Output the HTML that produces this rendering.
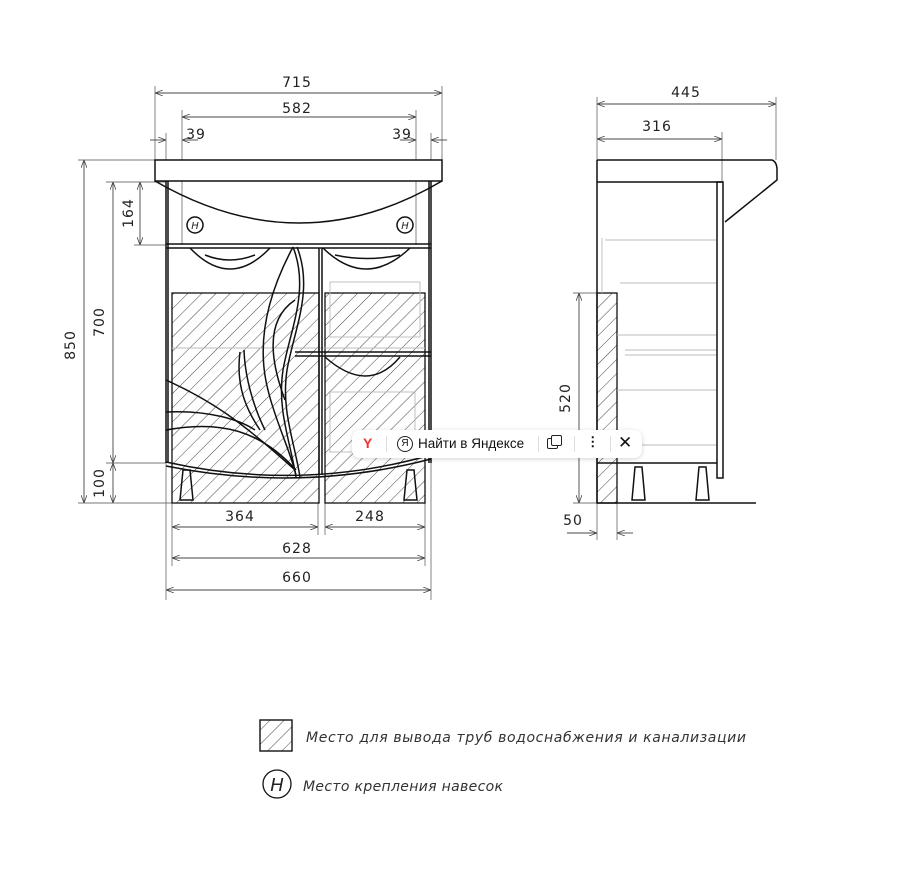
<!DOCTYPE html>
<html><head><meta charset="utf-8">
<style>
html,body{margin:0;padding:0;background:#fff;}
body{width:909px;height:876px;position:relative;overflow:hidden;font-family:"Liberation Sans",sans-serif;}
svg{position:absolute;left:0;top:0;}
.pop{position:absolute;left:352px;top:430px;width:290px;height:28px;background:#fff;border-radius:8px;box-shadow:0 1px 5px rgba(0,0,0,0.18);font-size:13.5px;color:#111;}
.pop span{position:absolute;top:6px;}
</style></head><body>
<svg width="909" height="876" viewBox="0 0 909 876">
<defs>
<pattern id="h" patternUnits="userSpaceOnUse" width="10" height="10" patternTransform="rotate(45)">
<line x1="0" y1="0" x2="0" y2="10" stroke="#444" stroke-width="1"/>
</pattern>
<marker id="a" markerWidth="8" markerHeight="6" refX="8" refY="3" orient="auto-start-reverse" markerUnits="userSpaceOnUse"><path d="M0,0 L8,3 L0,6" fill="none" stroke="#444" stroke-width="0.8"/></marker>
</defs>
<g stroke="#777" stroke-width="0.9" fill="none">
<line x1="155" y1="86" x2="155" y2="160"/><line x1="442" y1="86" x2="442" y2="160"/>
<line x1="182" y1="110" x2="182" y2="245"/><line x1="416" y1="110" x2="416" y2="245"/>
<line x1="166" y1="133" x2="166" y2="600"/><line x1="431" y1="133" x2="431" y2="600"/>
<line x1="78" y1="160" x2="155" y2="160"/><line x1="106" y1="182" x2="166" y2="182"/>
<line x1="134" y1="245" x2="166" y2="245"/><line x1="106" y1="463" x2="166" y2="463"/>
<line x1="78" y1="503" x2="172" y2="503"/>
<line x1="172" y1="503" x2="172" y2="566"/><line x1="425" y1="503" x2="425" y2="566"/>
<line x1="318" y1="503" x2="318" y2="535"/><line x1="325" y1="503" x2="325" y2="535"/>
<line x1="597" y1="97" x2="597" y2="160"/><line x1="776" y1="97" x2="776" y2="160"/>
<line x1="722" y1="132" x2="722" y2="182"/>
<line x1="573" y1="293" x2="597" y2="293"/><line x1="573" y1="503" x2="597" y2="503"/>
<line x1="597" y1="503" x2="597" y2="540"/><line x1="617" y1="503" x2="617" y2="540"/>
</g>
<g stroke="#444" stroke-width="0.9" fill="none" marker-start="url(#a)" marker-end="url(#a)">
<line x1="155" y1="93" x2="442" y2="93"/>
<line x1="182" y1="117" x2="416" y2="117"/>
<line x1="84" y1="160" x2="84" y2="503"/>
<line x1="113" y1="182" x2="113" y2="463"/>
<line x1="140" y1="182" x2="140" y2="245"/>
<line x1="113" y1="463" x2="113" y2="503"/>
<line x1="172" y1="527" x2="318" y2="527"/>
<line x1="325" y1="527" x2="425" y2="527"/>
<line x1="172" y1="558" x2="425" y2="558"/>
<line x1="166" y1="590" x2="431" y2="590"/>
<line x1="597" y1="104" x2="776" y2="104"/>
<line x1="597" y1="139" x2="722" y2="139"/>
<line x1="579" y1="293" x2="579" y2="503"/>
</g>
<g stroke="#444" stroke-width="0.9" fill="none">
<line x1="150" y1="140" x2="166" y2="140" marker-end="url(#a)"/><line x1="182" y1="140" x2="198" y2="140" marker-start="url(#a)"/>
<line x1="400" y1="140" x2="416" y2="140" marker-end="url(#a)"/><line x1="431" y1="140" x2="447" y2="140" marker-start="url(#a)"/>
<line x1="567" y1="533" x2="597" y2="533" marker-end="url(#a)"/><line x1="617" y1="533" x2="633" y2="533" marker-start="url(#a)"/>
</g>
<g font-family="'DejaVu Sans','Liberation Sans',sans-serif" font-size="14" fill="#222" text-anchor="middle" letter-spacing="1">
<text x="297" y="87">715</text>
<text x="297" y="113">582</text>
<text x="196" y="139">39</text><text x="402" y="139">39</text>
<text x="240" y="521">364</text><text x="370" y="521">248</text>
<text x="297" y="553">628</text><text x="297" y="582">660</text>
<text x="686" y="97">445</text><text x="657" y="131">316</text>
<text x="573" y="525">50</text>
<text transform="translate(75,345) rotate(-90)">850</text>
<text transform="translate(104,322) rotate(-90)">700</text>
<text transform="translate(133,213) rotate(-90)">164</text>
<text transform="translate(104,483) rotate(-90)">100</text>
<text transform="translate(570,398) rotate(-90)">520</text>
</g>
<g fill="url(#h)" stroke="#111" stroke-width="1.3">
<rect x="172" y="293" width="147" height="210"/>
<rect x="325" y="293" width="100" height="210"/>
<rect x="597" y="293" width="20" height="210"/>
</g>
<g stroke="#bbb" stroke-width="0.9" fill="none">
<rect x="330" y="282" width="90" height="55"/><rect x="330" y="392" width="85" height="60"/>
<line x1="172" y1="348" x2="425" y2="348"/>
<line x1="605" y1="240" x2="717" y2="240"/><line x1="620" y1="283" x2="717" y2="283"/>
<line x1="617" y1="335" x2="717" y2="335"/><line x1="625" y1="350" x2="717" y2="350"/><line x1="625" y1="355" x2="717" y2="355"/>
<line x1="617" y1="390" x2="717" y2="390"/><line x1="617" y1="445" x2="717" y2="445"/>
<line x1="602" y1="238" x2="602" y2="293"/>
</g>
<g stroke="#111" stroke-width="1.5" fill="none">
<rect x="155" y="160" width="287" height="21" fill="#fff"/>
<path d="M155,181 Q300,265 442,181"/>
<line x1="166" y1="181" x2="166" y2="463"/><line x1="431" y1="181" x2="431" y2="463"/>
<line x1="168" y1="181" x2="168" y2="463"/><line x1="429" y1="181" x2="429" y2="463"/>
<line x1="166" y1="244" x2="431" y2="244"/><line x1="166" y1="248" x2="431" y2="248"/>
<line x1="295" y1="352" x2="431" y2="352"/><line x1="295" y1="356" x2="431" y2="356"/>
<path d="M166,462 Q300,492 431,455"/>
<path d="M166,466 Q300,493 431,459"/>
<line x1="319" y1="248" x2="319" y2="475"/><line x1="322" y1="248" x2="322" y2="475"/>
<path d="M293,247 C310,290 290,330 283,370 C277,410 290,440 296,477"/>
<path d="M297,247 C314,290 294,330 287,370 C281,410 294,440 300,477"/>
<path d="M293,247 C270,290 255,340 268,390 C275,420 290,450 296,475"/>
<path d="M295,300 C265,320 270,360 285,400"/>
<path d="M240,352 C235,390 250,415 260,430"/><path d="M244,350 C245,380 255,410 265,430"/>
<path d="M166,380 C210,400 240,420 295,470"/>
<path d="M166,412 C210,410 240,420 255,430"/>
<path d="M166,430 C220,420 260,430 296,470"/>
<path d="M190,248 Q230,290 270,248"/><path d="M205,255 Q230,265 255,255"/>
<path d="M323,248 Q366,290 410,248"/><path d="M335,255 Q366,262 400,255"/>
<path d="M325,357 Q368,395 400,357"/>
<circle cx="195" cy="225" r="8"/><circle cx="405" cy="225" r="8"/>
<path d="M180,500 L183,470 L190,470 L193,500 Z"/><path d="M404,500 L407,470 L414,470 L417,500 Z"/>
<path d="M597,160 L772,160 Q777,162 777,170 L777,180 L725,222"/>
<line x1="597" y1="182" x2="722" y2="182"/>
<line x1="597" y1="160" x2="597" y2="503"/>
<rect x="717" y="182" width="6" height="296"/>
<line x1="597" y1="463" x2="717" y2="463"/>
<line x1="597" y1="503" x2="756" y2="503"/>
<path d="M632,500 L635,467 L642,467 L645,500 Z"/><path d="M696,500 L699,467 L706,467 L709,500 Z"/>
</g>
<g font-family="'DejaVu Sans','Liberation Sans',sans-serif" font-style="italic" font-size="10" fill="#222" text-anchor="middle">
<text x="195" y="229">H</text><text x="405" y="229">H</text>
</g>
<rect x="260" y="720" width="32" height="31" fill="url(#h)" stroke="#111" stroke-width="1.4"/>
<circle cx="277" cy="784" r="14" fill="none" stroke="#111" stroke-width="1.3"/>
<text x="277" y="791" font-family="'DejaVu Sans',sans-serif" font-style="italic" font-size="18" text-anchor="middle" fill="#222">H</text>
<g font-family="'DejaVu Sans','Liberation Sans',sans-serif" font-style="italic" font-size="14" fill="#333">
<text x="306" y="742" textLength="440" lengthAdjust="spacing">Место для вывода труб водоснабжения и канализации</text>
<text x="303" y="791" textLength="200" lengthAdjust="spacing">Место крепления навесок</text>
</g>
</svg>
<div class="pop">
<span style="left:11px;top:5px;color:#e33;font-weight:bold;font-size:14px;">Y</span>
<span style="left:34px;top:6px;width:1px;height:16px;background:#ddd;"></span>
<span style="left:45px;top:6px;width:14px;height:14px;border:1.3px solid #222;border-radius:50%;font-size:10px;text-align:center;line-height:14px;">Я</span>
<span style="left:66px;">Найти в Яндексе</span>
<span style="left:186px;top:6px;width:1px;height:16px;background:#ddd;"></span>
<span style="left:195px;top:8px;width:9px;height:9px;border:1.3px solid #222;border-radius:2px;"></span>
<span style="left:199px;top:5px;width:9px;height:9px;border:1.3px solid #222;border-radius:2px;background:#fff;"></span>
<span style="left:222px;top:6px;width:1px;height:16px;background:#ddd;"></span>
<span style="left:234px;top:4px;font-weight:bold;">⋮</span>
<span style="left:258px;top:6px;width:1px;height:16px;background:#ddd;"></span>
<span style="left:266px;top:3px;font-size:17px;">✕</span>
</div>
</body></html>
